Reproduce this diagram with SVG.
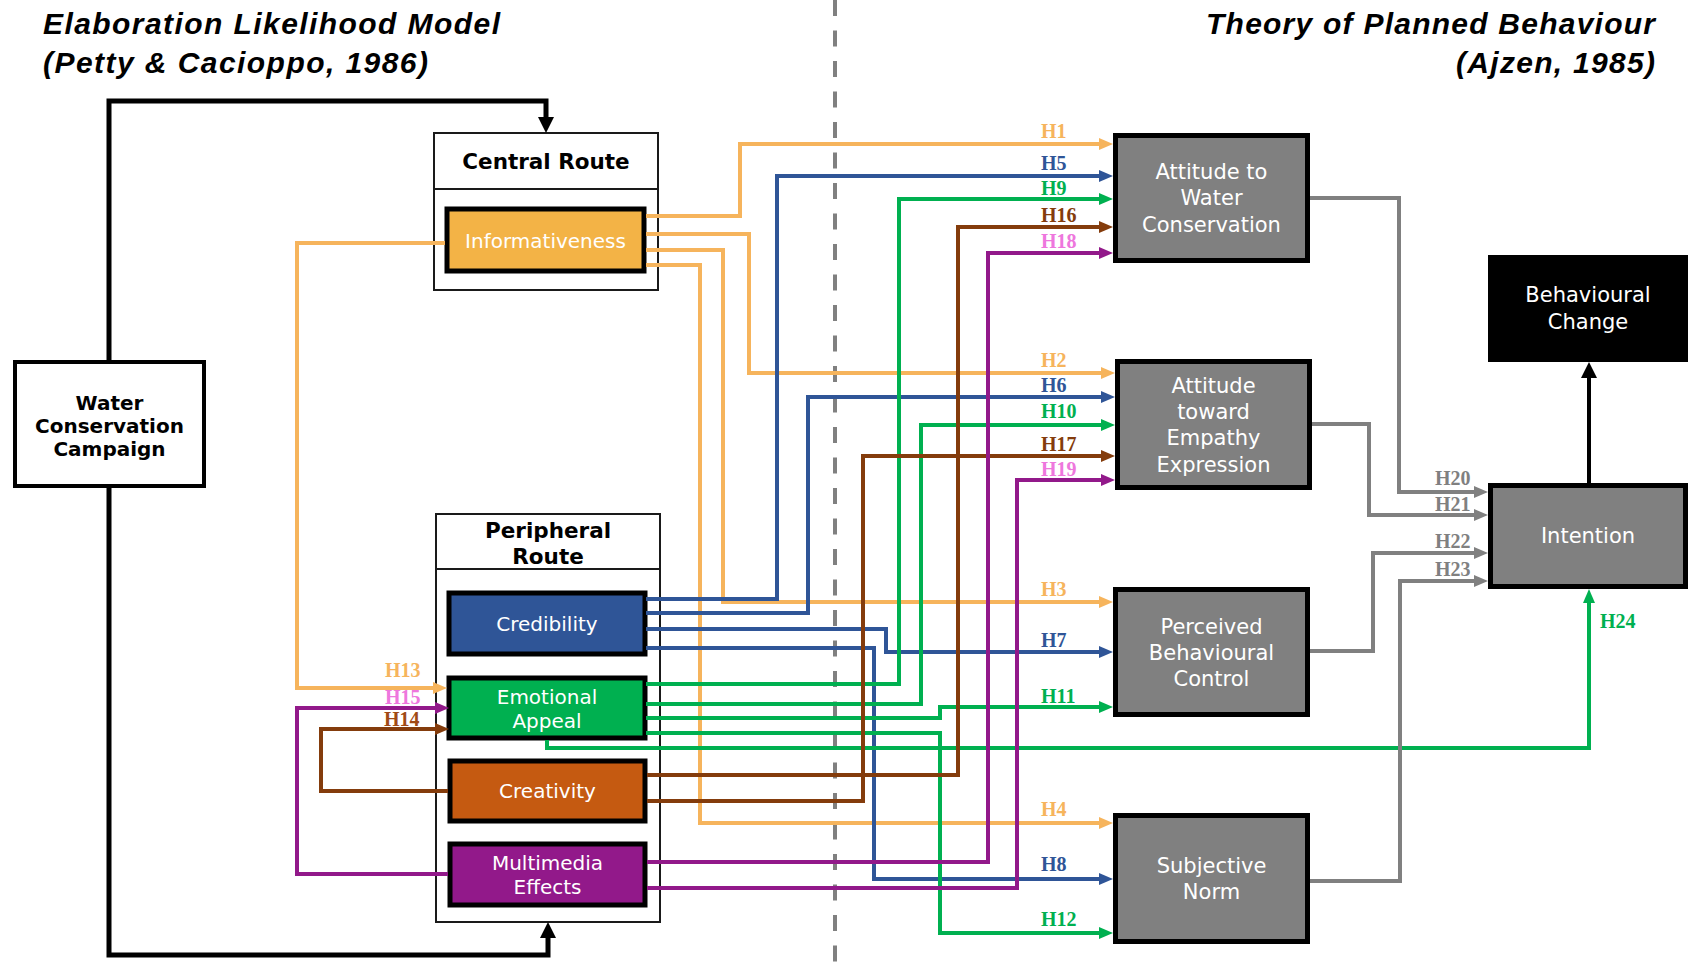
<svg xmlns="http://www.w3.org/2000/svg" width="1695" height="966" viewBox="0 0 1695 966">
  <style>
    .title { font-family: "Liberation Sans", Arial, sans-serif; font-weight: bold; font-style: italic; font-size: 30px; fill: #000; }
    .hdr { font-family: "DejaVu Sans", Verdana, sans-serif; font-weight: bold; font-size: 21.5px; fill: #000; text-anchor: middle; }
    .camp { font-family: "DejaVu Sans", Verdana, sans-serif; font-weight: bold; font-size: 20px; fill: #000; text-anchor: middle; }
    .nt { font-family: "DejaVu Sans", Verdana, sans-serif; font-size: 20px; fill: #fff; text-anchor: middle; }
    .rt { font-family: "DejaVu Sans", Verdana, sans-serif; font-size: 21px; fill: #fff; text-anchor: middle; }
    .lbl { font-family: "Liberation Serif", "Times New Roman", serif; font-weight: bold; font-size: 20px; }
    .frame { fill: #fff; stroke: #1a1a1a; stroke-width: 2; }
    .inner { stroke: #000; stroke-width: 5; }
    .tpb { fill: #808080; stroke: #000; stroke-width: 5; }
    .c { fill: none; stroke-width: 4; stroke-linejoin: miter; stroke-linecap: butt; }
    .or { stroke: #F6B45C; } .bl { stroke: #2F5597; } .gr { stroke: #00B050; }
    .br { stroke: #843C0C; } .pu { stroke: #92198A; } .gy { stroke: #808080; }
    .bk { fill: none; stroke: #000; stroke-width: 5; }
  </style>
  <defs>
    <marker id="a-or" viewBox="0 0 14 12" markerWidth="14" markerHeight="12" refX="6" refY="6" orient="auto" markerUnits="userSpaceOnUse"><path d="M0,0 L14,6 L0,12 z" fill="#F6B45C"/></marker>
    <marker id="a-bl" viewBox="0 0 14 12" markerWidth="14" markerHeight="12" refX="6" refY="6" orient="auto" markerUnits="userSpaceOnUse"><path d="M0,0 L14,6 L0,12 z" fill="#2F5597"/></marker>
    <marker id="a-gr" viewBox="0 0 14 12" markerWidth="14" markerHeight="12" refX="6" refY="6" orient="auto" markerUnits="userSpaceOnUse"><path d="M0,0 L14,6 L0,12 z" fill="#00B050"/></marker>
    <marker id="a-br" viewBox="0 0 14 12" markerWidth="14" markerHeight="12" refX="6" refY="6" orient="auto" markerUnits="userSpaceOnUse"><path d="M0,0 L14,6 L0,12 z" fill="#843C0C"/></marker>
    <marker id="a-pu" viewBox="0 0 14 12" markerWidth="14" markerHeight="12" refX="6" refY="6" orient="auto" markerUnits="userSpaceOnUse"><path d="M0,0 L14,6 L0,12 z" fill="#92198A"/></marker>
    <marker id="a-gy" viewBox="0 0 14 12" markerWidth="14" markerHeight="12" refX="6" refY="6" orient="auto" markerUnits="userSpaceOnUse"><path d="M0,0 L14,6 L0,12 z" fill="#808080"/></marker>
    <marker id="a-bk" viewBox="0 0 16 16" markerWidth="16" markerHeight="16" refX="8" refY="8" orient="auto" markerUnits="userSpaceOnUse"><path d="M0,0 L16,8 L0,16 z" fill="#000"/></marker>
  </defs>

  <rect width="1695" height="966" fill="#fff"/>

  <!-- model titles -->
  <g id="titles">
    <text class="title" x="43" y="34" textLength="457" lengthAdjust="spacing">Elaboration Likelihood Model</text>
    <text class="title" x="43" y="73" textLength="385" lengthAdjust="spacing">(Petty &amp; Cacioppo, 1986)</text>
    <text class="title" x="1206" y="34" textLength="449" lengthAdjust="spacing">Theory of Planned Behaviour</text>
    <text class="title" x="1456" y="73" textLength="199" lengthAdjust="spacing">(Ajzen, 1985)</text>
  </g>

  <!-- divider between the two models -->
  <line id="divider" x1="835" y1="0" x2="835" y2="966" stroke="#808080" stroke-width="4" stroke-dasharray="16 14.5"/>

  <!-- ELM side -->
  <g id="campaign">
    <rect x="15" y="362" width="189" height="124" fill="#fff" stroke="#000" stroke-width="4"/>
    <text class="camp" x="109.5" y="410">Water</text>
    <text class="camp" x="109.5" y="433">Conservation</text>
    <text class="camp" x="109.5" y="456">Campaign</text>
  </g>

  <g id="central-route">
    <rect class="frame" x="434" y="133" width="224" height="157"/>
    <line x1="434" y1="189" x2="658" y2="189" stroke="#1a1a1a" stroke-width="2"/>
    <text class="hdr" x="546" y="169">Central Route</text>
  </g>

  <g id="peripheral-route">
    <rect class="frame" x="436" y="514" width="224" height="408"/>
    <line x1="436" y1="569" x2="660" y2="569" stroke="#1a1a1a" stroke-width="2"/>
    <text class="hdr" x="548" y="538">Peripheral</text>
    <text class="hdr" x="548" y="564">Route</text>
  </g>

  <g id="informativeness">
    <rect class="inner" x="447" y="209" width="197" height="62" fill="#F3B346"/>
    <text class="nt" x="545.5" y="248">Informativeness</text>
  </g>
  <g id="credibility">
    <rect class="inner" x="449" y="593" width="196" height="61" fill="#2F5597"/>
    <text class="nt" x="547" y="631">Credibility</text>
  </g>
  <g id="emotional-appeal">
    <rect class="inner" x="449" y="678" width="196" height="60" fill="#00B050"/>
    <text class="nt" x="547" y="704">Emotional</text>
    <text class="nt" x="547" y="728">Appeal</text>
  </g>
  <g id="creativity">
    <rect class="inner" x="450" y="761" width="195" height="60" fill="#C55A11"/>
    <text class="nt" x="547.5" y="798">Creativity</text>
  </g>
  <g id="multimedia-effects">
    <rect class="inner" x="450" y="844" width="195" height="61" fill="#92198A"/>
    <text class="nt" x="547.5" y="870">Multimedia</text>
    <text class="nt" x="547.5" y="894">Effects</text>
  </g>

  <!-- TPB side -->
  <g id="attitude-water">
    <rect class="tpb" x="1115.5" y="135.5" width="192" height="125"/>
    <text class="rt" x="1211.5" y="179">Attitude to</text>
    <text class="rt" x="1211.5" y="205">Water</text>
    <text class="rt" x="1211.5" y="232">Conservation</text>
  </g>
  <g id="attitude-empathy">
    <rect class="tpb" x="1117.5" y="361.5" width="192" height="126"/>
    <text class="rt" x="1213.5" y="393">Attitude</text>
    <text class="rt" x="1213.5" y="419">toward</text>
    <text class="rt" x="1213.5" y="445">Empathy</text>
    <text class="rt" x="1213.5" y="472">Expression</text>
  </g>
  <g id="perceived-control">
    <rect class="tpb" x="1115.5" y="589.5" width="192" height="125"/>
    <text class="rt" x="1211.5" y="634">Perceived</text>
    <text class="rt" x="1211.5" y="660">Behavioural</text>
    <text class="rt" x="1211.5" y="686">Control</text>
  </g>
  <g id="subjective-norm">
    <rect class="tpb" x="1115.5" y="815.5" width="192" height="126"/>
    <text class="rt" x="1211.5" y="873">Subjective</text>
    <text class="rt" x="1211.5" y="899">Norm</text>
  </g>
  <g id="intention">
    <rect class="tpb" x="1490.5" y="485.5" width="195" height="101"/>
    <text class="rt" x="1588" y="543">Intention</text>
  </g>
  <g id="behavioural-change">
    <rect x="1488" y="255" width="200" height="107" fill="#000"/>
    <text class="rt" x="1588" y="302">Behavioural</text>
    <text class="rt" x="1588" y="329">Change</text>
  </g>

  <!-- connectors -->
  <g id="connectors">
    <path class="bk" d="M109,360 V101 H546 V125" marker-end="url(#a-bk)"/>
    <path class="bk" d="M109,488 V955 H548 V930" marker-end="url(#a-bk)"/>
    <path class="bk" style="stroke-width:4" d="M1589,483 V370" marker-end="url(#a-bk)"/>

    <path class="c or" d="M646,216 H740 V144 H1105" marker-end="url(#a-or)"/>
    <path class="c or" d="M646,234 H749 V373 H1107" marker-end="url(#a-or)"/>
    <path class="c or" d="M646,250 H723 V602 H1105" marker-end="url(#a-or)"/>
    <path class="c or" d="M646,265 H700 V823 H1105" marker-end="url(#a-or)"/>
    <path class="c or" d="M445,243 H297 V688 H439" marker-end="url(#a-or)"/>

    <path class="c bl" d="M646,599 H777 V176 H1105" marker-end="url(#a-bl)"/>
    <path class="c bl" d="M646,613 H808 V397 H1107" marker-end="url(#a-bl)"/>
    <path class="c bl" d="M646,629 H886 V652 H1105" marker-end="url(#a-bl)"/>
    <path class="c bl" d="M646,648 H874 V879 H1105" marker-end="url(#a-bl)"/>

    <path class="c gr" d="M646,684 H899 V199 H1105" marker-end="url(#a-gr)"/>
    <path class="c gr" d="M646,704 H921 V425 H1107" marker-end="url(#a-gr)"/>
    <path class="c gr" d="M646,718 H940 V707 H1105" marker-end="url(#a-gr)"/>
    <path class="c gr" d="M646,733 H940 V933 H1105" marker-end="url(#a-gr)"/>
    <path class="c gr" d="M547,740 V748 H1589 V597" marker-end="url(#a-gr)"/>

    <path class="c br" d="M647,775 H958 V227 H1105" marker-end="url(#a-br)"/>
    <path class="c br" d="M647,801 H863 V456 H1107" marker-end="url(#a-br)"/>
    <path class="c br" d="M448,791 H321 V729 H441" marker-end="url(#a-br)"/>

    <path class="c pu" d="M647,862 H988 V253 H1105" marker-end="url(#a-pu)"/>
    <path class="c pu" d="M647,888 H1017 V480 H1107" marker-end="url(#a-pu)"/>
    <path class="c pu" d="M448,874 H297 V708 H441" marker-end="url(#a-pu)"/>

    <path class="c gy" d="M1310,198 H1399 V492 H1480" marker-end="url(#a-gy)"/>
    <path class="c gy" d="M1312,424 H1369 V515 H1480" marker-end="url(#a-gy)"/>
    <path class="c gy" d="M1310,651 H1373 V553 H1480" marker-end="url(#a-gy)"/>
    <path class="c gy" d="M1310,881 H1400 V581 H1480" marker-end="url(#a-gy)"/>
  </g>

  <!-- hypothesis labels -->
  <g id="labels" class="lbl">
    <text x="1041" y="138" fill="#F6B45C">H1</text>
    <text x="1041" y="170" fill="#2F5597">H5</text>
    <text x="1041" y="195" fill="#00B050">H9</text>
    <text x="1041" y="222" fill="#843C0C">H16</text>
    <text x="1041" y="248" fill="#EE77DD">H18</text>
    <text x="1041" y="367" fill="#F6B45C">H2</text>
    <text x="1041" y="392" fill="#2F5597">H6</text>
    <text x="1041" y="418" fill="#00B050">H10</text>
    <text x="1041" y="451" fill="#843C0C">H17</text>
    <text x="1041" y="476" fill="#EE77DD">H19</text>
    <text x="1041" y="596" fill="#F6B45C">H3</text>
    <text x="1041" y="647" fill="#2F5597">H7</text>
    <text x="1041" y="703" fill="#00B050">H11</text>
    <text x="1041" y="816" fill="#F6B45C">H4</text>
    <text x="1041" y="871" fill="#2F5597">H8</text>
    <text x="1041" y="926" fill="#00B050">H12</text>
    <text x="385" y="677" fill="#F6B45C">H13</text>
    <text x="385" y="704" fill="#EE77DD">H15</text>
    <text x="384" y="726" fill="#A04A15">H14</text>
    <text x="1435" y="485" fill="#808080">H20</text>
    <text x="1435" y="511" fill="#808080">H21</text>
    <text x="1435" y="548" fill="#808080">H22</text>
    <text x="1435" y="576" fill="#808080">H23</text>
    <text x="1600" y="628" fill="#00B050">H24</text>
  </g>
</svg>
